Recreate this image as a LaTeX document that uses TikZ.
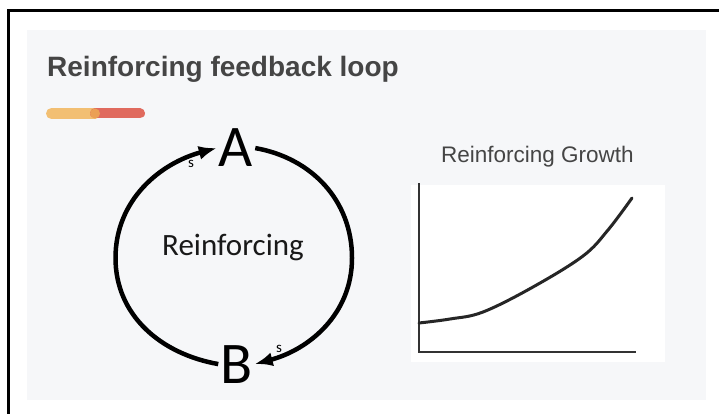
\documentclass[tikz,border=0pt]{standalone}
\usepackage{fontspec}
\setmainfont{Liberation Sans}
\newfontfamily\calibri{Carlito}
\usetikzlibrary{arrows.meta}
\definecolor{panel}{HTML}{F6F7F9}
\definecolor{inkgrey}{HTML}{454545}
\definecolor{barorange}{HTML}{F2BF73}
\definecolor{barred}{HTML}{E06A5E}
\definecolor{barmix}{HTML}{EBA055}
\tikzset{
	loopline/.style = {line width=4.5pt, -{Latex[length=18pt,width=14pt]}},
	letter/.style = {font=\calibri\fontsize{59}{59}\selectfont, inner sep=2pt, anchor=base},
	smalls/.style = {font=\calibri\fontsize{15}{15}\selectfont, inner sep=0pt},
	axis/.style = {line width=2.5pt, draw=black!80}
}

\begin{document}
\begin{tikzpicture}[x=1pt,y=1pt]
		\useasboundingbox (0,0) rectangle (719,-414);
		\clip (0,0) rectangle (719,-414);
		\fill[white] (0,0) rectangle (719,-414);
		\draw[line width=3pt] (8.5,-10.5) rectangle (740,-440);
		\fill[panel] (27,-30) rectangle (706,-400);

		\node[anchor=base west, inner sep=0pt, text=inkgrey, font=\bfseries\fontsize{28}{28}\selectfont] at (47,-77)(title){Reinforcing feedback loop};
		\draw[barorange, line width=11pt, line cap=round] (51.5,-113.5) -- (95,-113.5);
		\draw[barred, line width=10pt, line cap=round] (95,-113.5) -- (140,-113.5);
		\fill[barmix] (95,-113.5) circle (5pt);

		\node[letter] at (236,-167)(A){A};
		\node[letter] at (236.5,-383)(B){B};
		\coordinate (L) at (115.5,-258);
		\coordinate (R) at (352,-258);
		\node[anchor=base, inner sep=0pt, font=\calibri\fontsize{31}{31}\selectfont, text=black!90] at (233,-255)(label){Reinforcing};
		\draw[loopline] (B.west) to[out=170, in=-90] (L) to[out=90, in=195] (A.west);
		\draw[loopline] (A.east) to[out=-10, in=90] (R) to[out=-90, in=15] (B.east);
		\node[smalls] at (191,-164)(sA){s};
		\node[smalls] at (279,-349)(sB){s};

		\node[anchor=base, inner sep=0pt, text=inkgrey, font=\fontsize{22.5}{22.5}\selectfont] at (537.5,-163)(charttitle){Reinforcing Growth};
		\fill[white] (411,-185) rectangle (665,-362);
		\draw[axis] (419,-183) -- (419,-352) -- (636,-352);
		\draw[line width=3pt, black!85, line cap=round] plot[smooth, tension=0.6] coordinates
			{(419,-323) (450,-319) (483,-312) (533,-287) (583,-256) (608,-230) (632,-198)};
	\end{tikzpicture}
\end{document}
